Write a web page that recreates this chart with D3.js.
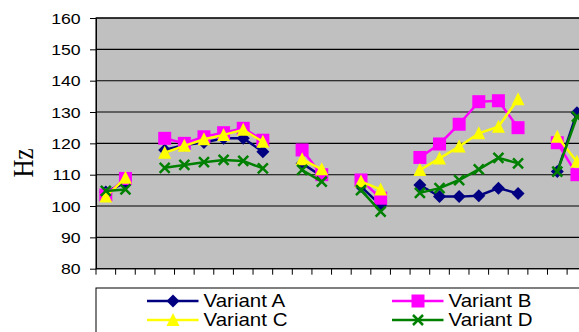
<!DOCTYPE html>
<html>
<head>
<meta charset="utf-8">
<script src="https://cdn.jsdelivr.net/npm/d3@7"></script>
<style>
  html, body { margin: 0; padding: 0; background: #fff; overflow: hidden; }
  svg { display: block; }
  text { font-family: Arial, "Liberation Sans", sans-serif; fill: #000; }
</style>
</head>
<body>
<svg id="chart" width="579" height="332"></svg>
<script>
// Category slots along the x axis (gaps between measurement groups are null)
const categories = d3.range(26);

const variantA = [104.5, 107.5, null, 117.9, 119.5, 120.3, 121.6, 121.6, 117.3, null,
                  113.6, 109.5, null, 106.2, 100.3, null,
                  106.7, 103.0, 103.0, 103.3, 105.7, 104.0, null, 111.0, 129.8, null];
const variantB = [103.5, 108.8, null, 121.6, 120.0, 122.1, 123.4, 124.8, 121.0, null,
                  117.9, 110.0, null, 108.3, 102.5, null,
                  115.5, 119.8, 126.1, 133.3, 133.6, 125.0, null, 120.2, 110.0, null];
const variantC = [103.0, 109.0, null, 117.0, 119.2, 121.3, 122.7, 124.3, 120.5, null,
                  114.9, 111.7, null, 107.8, 105.3, null,
                  111.5, 115.2, 119.0, 123.2, 125.3, 134.1, null, 122.1, 114.1, null];
const variantD = [104.8, 105.3, null, 112.2, 113.1, 114.0, 114.7, 114.4, 112.0, null,
                  111.5, 107.8, null, 105.1, 98.2, null,
                  104.2, 105.7, 108.3, 111.7, 115.4, 113.6, null, 111.0, 128.5, null];

const seriesNames = ["Variant A", "Variant B", "Variant C", "Variant D"];
const yTicks = [80, 90, 100, 110, 120, 130, 140, 150, 160];
const yLabel = "Hz";

const series = [
  { name: seriesNames[0], values: variantA, color: "#000080", marker: "diamond" },
  { name: seriesNames[1], values: variantB, color: "#FF00FF", marker: "square" },
  { name: seriesNames[2], values: variantC, color: "#FFFF00", marker: "triangle" },
  { name: seriesNames[3], values: variantD, color: "#008000", marker: "cross" }
];

const svg = d3.select("#chart");
const plot = { left: 96, top: 18, bottom: 268.7, step: 19.63 };
const stretch = 1.14;

const x = d3.scaleBand()
  .domain(categories)
  .range([plot.left, plot.left + plot.step * categories.length])
  .paddingInner(0).paddingOuter(0);
const y = d3.scaleLinear().domain([80, 160]).range([plot.bottom, plot.top]);
const plotRight = x.range()[1];

// Plot area
svg.append("rect")
  .attr("x", plot.left).attr("y", plot.top)
  .attr("width", plotRight - plot.left).attr("height", plot.bottom - plot.top)
  .attr("fill", "#C0C0C0");

// Horizontal gridlines
svg.append("g").selectAll("line").data(yTicks).join("line")
  .attr("x1", plot.left).attr("x2", plotRight)
  .attr("y1", d => y(d)).attr("y2", d => y(d))
  .attr("stroke", "#000").attr("stroke-width", 1.1);

// Plot border
svg.append("rect")
  .attr("x", plot.left).attr("y", plot.top)
  .attr("width", plotRight - plot.left).attr("height", plot.bottom - plot.top)
  .attr("fill", "none").attr("stroke", "#000").attr("stroke-width", 1.1);

// Y axis
const yAxis = svg.append("g")
  .attr("transform", `translate(${plot.left},0)`)
  .call(d3.axisLeft(y).tickValues(yTicks).tickSize(6).tickPadding(0).tickSizeOuter(0));
yAxis.select(".domain").attr("stroke", "#000");
yAxis.selectAll(".tick line").attr("stroke", "#000");
yAxis.selectAll(".tick text")
  .attr("x", null).attr("dy", null)
  .attr("dominant-baseline", "central")
  .attr("transform", `translate(-15.3,0) scale(${stretch},1)`)
  .style("font-size", "15.5px")
  .attr("fill", "#000");

// X axis: tick marks on category boundaries, no labels
const boundaries = d3.range(categories.length + 1).map(i => plot.left + i * plot.step);
svg.append("g").selectAll("line").data(boundaries).join("line")
  .attr("x1", d => d).attr("x2", d => d)
  .attr("y1", plot.bottom).attr("y2", plot.bottom + 6)
  .attr("stroke", "#000").attr("stroke-width", 1);

// Y axis title
svg.append("text")
  .attr("transform", `translate(32.5,163) scale(${stretch},1) rotate(-90)`)
  .attr("text-anchor", "middle")
  .style("font-family", "'Liberation Serif', 'DejaVu Serif', serif")
  .style("font-size", "25px")
  .text(yLabel);

// Marker shapes
function drawMarker(g, type, color, cx, cy) {
  if (type === "diamond") {
    g.append("path")
      .attr("d", `M${cx},${cy - 6.5}L${cx + 6.5},${cy}L${cx},${cy + 6.5}L${cx - 6.5},${cy}Z`)
      .attr("fill", color);
  } else if (type === "square") {
    g.append("rect")
      .attr("x", cx - 6.5).attr("y", cy - 6.5).attr("width", 13).attr("height", 13)
      .attr("fill", color);
  } else if (type === "triangle") {
    g.append("path")
      .attr("d", `M${cx},${cy - 7}L${cx + 6.5},${cy + 6}L${cx - 6.5},${cy + 6}Z`)
      .attr("fill", color);
  } else if (type === "cross") {
    g.append("path")
      .attr("d", `M${cx - 5},${cy - 5}L${cx + 5},${cy + 5}M${cx - 5},${cy + 5}L${cx + 5},${cy - 5}`)
      .attr("stroke", color).attr("stroke-width", 2.5).attr("fill", "none");
  }
}

const line = d3.line()
  .defined(d => d.v !== null)
  .x(d => x(d.c) + x.bandwidth() / 2)
  .y(d => y(d.v));

const chartLayer = svg.append("g");
series.forEach(s => {
  const pts = categories.map((c, i) => ({ c, v: s.values[i] }));
  const g = chartLayer.append("g");
  g.append("path")
    .datum(pts)
    .attr("d", line)
    .attr("fill", "none")
    .attr("stroke", s.color)
    .attr("stroke-width", 2.5);
  pts.filter(p => p.v !== null).forEach(p => {
    drawMarker(g, s.marker, s.color, x(p.c) + x.bandwidth() / 2, y(p.v));
  });
});

// Legend
const legend = svg.append("g");
legend.append("rect")
  .attr("x", 96).attr("y", 288).attr("width", 600).attr("height", 100)
  .attr("fill", "#fff").attr("stroke", "#000").attr("stroke-width", 1);

const legendPos = [
  { lx: 147, ly: 301, tx: 203.5, ty: 307.3 },
  { lx: 392, ly: 301, tx: 448.5, ty: 307.3 },
  { lx: 147, ly: 320, tx: 203.5, ty: 326 },
  { lx: 392, ly: 320, tx: 448.5, ty: 326 }
];
series.forEach((s, i) => {
  const p = legendPos[i];
  const g = legend.append("g");
  g.append("line")
    .attr("x1", p.lx).attr("x2", p.lx + 51.5)
    .attr("y1", p.ly).attr("y2", p.ly)
    .attr("stroke", s.color).attr("stroke-width", 2.5);
  drawMarker(g, s.marker, s.color, p.lx + 26, p.ly);
  g.append("text")
    .attr("transform", `translate(${p.tx},${p.ty}) scale(${stretch},1)`)
    .style("font-size", "18px")
    .text(s.name);
});
</script>
</body>
</html>
